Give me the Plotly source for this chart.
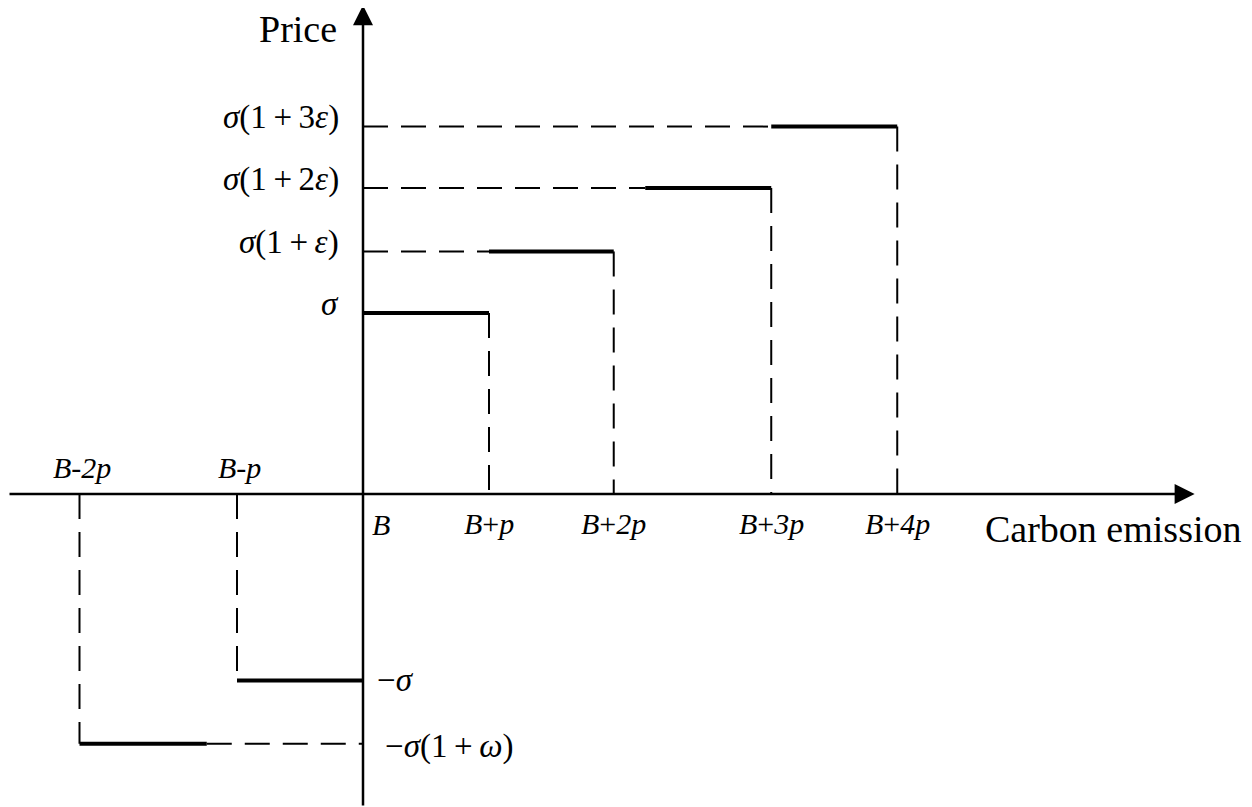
import plotly.graph_objects as go

# Step price schedule (x in units of p with B = 0, y in units of sigma)
x_ticks = [-2.25, -1.0, 0.0, 1.0, 1.99, 3.24, 4.24]
x_labels = ["B-2p", "B-p", "B", "B+p", "B+2p", "B+3p", "B+4p"]

pos_levels = [1.0, 1.34, 1.69, 2.03]
pos_labels = ["<i>σ</i>",
              "<i>σ</i>(1\u2009+\u2009<i>ε</i>)",
              "<i>σ</i>(1\u2009+\u20092<i>ε</i>)",
              "<i>σ</i>(1\u2009+\u20093<i>ε</i>)"]
pos_solid_start = [0.0, 1.0, 2.24, 3.24]
pos_step_end = [1.0, 1.99, 3.24, 4.24]

neg_levels = [-1.03, -1.38]
neg_labels = ["−<i>σ</i>", "−<i>σ</i>(1\u2009+\u2009<i>ω</i>)"]
neg_step_start = [-1.0, -2.25]
neg_solid_end = [0.0, -1.24]

# page body has an 8px margin, so the figure is 1244x799 and shifted ranges
W, H = 1244, 799
X_RANGE = [-355 / 126, (W - 355) / 126]
Y_RANGE = [-(H - 486) / 181, 486 / 181]
FONT = "Liberation Serif"
DASH = "25px,13px"

fig = go.Figure()

def seg(x0, x1, y0, y1, dashed, width):
    fig.add_trace(go.Scatter(
        x=[x0, x1], y=[y0, y1], mode="lines",
        line=dict(color="black", width=width, dash=DASH if dashed else "solid"),
        hoverinfo="skip", showlegend=False))

# positive steps
for lvl, s, e in zip(pos_levels, pos_solid_start, pos_step_end):
    if s > 0:
        seg(0, s, lvl, lvl, True, 2)
    seg(s, e, lvl, lvl, False, 4)
    seg(e, e, lvl, 0, True, 2)

# negative steps
for lvl, s, e in zip(neg_levels, neg_step_start, neg_solid_end):
    seg(s, s, 0, lvl, True, 2)
    seg(s, e, lvl, lvl, False, 4)
    if e < 0:
        seg(e, 0, lvl, lvl, True, 2)

annotations = []
# axes with arrowheads
annotations.append(dict(x=6.6, y=0, ax=X_RANGE[0], ay=0, xref="x", yref="y",
                        axref="x", ayref="y", showarrow=True, arrowhead=2,
                        arrowsize=1.6, arrowwidth=2.5, arrowcolor="black", text=""))
annotations.append(dict(x=0, y=2.70, ax=0, ay=Y_RANGE[0], xref="x", yref="y",
                        axref="x", ayref="y", showarrow=True, arrowhead=2,
                        arrowsize=1.6, arrowwidth=2.5, arrowcolor="black", text=""))

# x tick labels
for xv, lab in zip(x_ticks, x_labels):
    txt = "<i>" + lab.replace("+", "</i>+<i>") + "</i>"
    if xv < 0:
        annotations.append(dict(x=xv, y=0, text=txt, showarrow=False,
                                yshift=27, xshift=2,
                                font=dict(family=FONT, size=30, color="black")))
    elif xv == 0:
        annotations.append(dict(x=xv, y=0, text=txt, showarrow=False,
                                xanchor="left", xshift=7, yshift=-30,
                                font=dict(family=FONT, size=30, color="black")))
    else:
        annotations.append(dict(x=xv, y=0, text=txt, showarrow=False,
                                yshift=-29,
                                font=dict(family=FONT, size=30, color="black")))

# price labels
for lvl, lab in zip(pos_levels, pos_labels):
    annotations.append(dict(x=0, y=lvl, text=lab, showarrow=False,
                            xanchor="right", xshift=-22, yshift=9,
                            font=dict(family=FONT, size=33, color="black")))
annotations.append(dict(x=0, y=neg_levels[0], text=neg_labels[0], showarrow=False,
                        xanchor="left", xshift=12, yshift=0,
                        font=dict(family=FONT, size=33, color="black")))
annotations.append(dict(x=0, y=neg_levels[1], text=neg_labels[1], showarrow=False,
                        xanchor="left", xshift=20, yshift=-3,
                        font=dict(family=FONT, size=33, color="black")))

# axis titles
annotations.append(dict(x=4.92, y=0, text="Carbon emission", showarrow=False,
                        xanchor="left", yshift=-35,
                        font=dict(family=FONT, size=38, color="black")))
annotations.append(dict(x=0, y=Y_RANGE[1], text="Price", showarrow=False,
                        xanchor="right", yanchor="top", xshift=-24, yshift=2,
                        font=dict(family=FONT, size=38, color="black")))

fig.update_layout(
    width=W, height=H,
    margin=dict(l=0, r=0, t=0, b=0),
    plot_bgcolor="white", paper_bgcolor="white",
    xaxis=dict(range=X_RANGE, visible=False, fixedrange=True),
    yaxis=dict(range=Y_RANGE, visible=False, fixedrange=True),
    annotations=annotations,
    showlegend=False,
)

fig.write_html("out.html")
